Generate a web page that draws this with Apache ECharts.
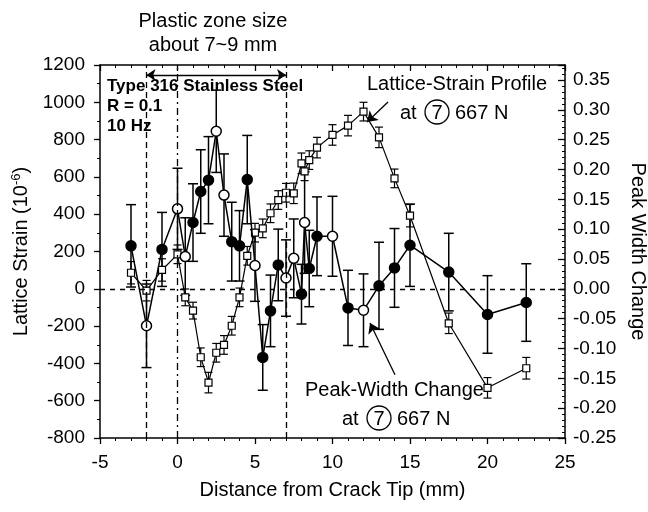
<!DOCTYPE html>
<html>
<head>
<meta charset="utf-8">
<script src="https://cdn.jsdelivr.net/npm/echarts@6/dist/echarts.min.js"></script>
<style>
  html, body { margin: 0; padding: 0; background: #fff; }
  #chart { width: 648px; height: 512px; }
</style>
</head>
<body>
<div id="chart"></div>
<script>
// Lattice strain profile (squares, left axis)
var strainX   = [-3, -2, -1, 0, 0.5, 1, 1.5, 2, 2.5, 3, 3.5, 4, 4.5, 5, 5.5, 6, 6.5, 7, 7.5, 8, 8.2, 8.5, 9, 10, 11, 12, 13, 14, 15, 17.5, 20, 22.5];
var strainVal = [86, -10, 101, 185, -46, -117, -367, -503, -343, -301, -198, -46, 177, 301, 324, 405, 476, 515, 512, 673, 630, 690, 757, 825, 875, 950, 812, 592, 392, -185, -531, -426];
var strainErr = [60, 55, 60, 50, 45, 45, 50, 55, 50, 50, 50, 50, 50, 50, 50, 50, 50, 50, 55, 55, 50, 50, 55, 55, 55, 50, 55, 50, 60, 55, 55, 58];

// Peak width change (circles, right axis), filled = 1 / open = 0
var widthX      = [-3, -2, -1, 0, 0.5, 1, 1.5, 2, 2.5, 3, 3.5, 4, 4.5, 5, 5.5, 6, 6.5, 7, 7.5, 8, 8.2, 8.5, 9, 10, 11, 12, 13, 14, 15, 17.5, 20, 22.5];
var widthVal    = [0.072, -0.062, 0.066, 0.134, 0.054, 0.111, 0.163, 0.182, 0.264, 0.157, 0.079, 0.072, 0.183, 0.039, -0.115, -0.037, 0.040, 0.018, 0.051, -0.009, 0.111, 0.034, 0.088, 0.088, -0.032, -0.036, 0.005, 0.035, 0.073, 0.028, -0.043, -0.023];
var widthErr    = [0.069, 0.07, 0.062, 0.068, 0.065, 0.065, 0.07, 0.073, 0.069, 0.069, 0.066, 0.059, 0.074, 0.06, 0.055, 0.06, 0.06, 0.064, 0.066, 0.05, 0.085, 0.064, 0.066, 0.067, 0.063, 0.061, 0.073, 0.066, 0.069, 0.065, 0.065, 0.065];
var widthFilled = [1, 0, 1, 0, 0, 1, 1, 1, 0, 0, 1, 1, 1, 0, 1, 1, 1, 0, 0, 1, 0, 1, 1, 0, 1, 0, 1, 1, 1, 1, 1, 1];

var strainTicks = [-800, -600, -400, -200, 0, 200, 400, 600, 800, 1000, 1200];

var FONT = '"Liberation Sans", Arial, sans-serif';

var strainData = strainX.map(function (x, i) { return [x, strainVal[i]]; });
var strainBars = strainX.map(function (x, i) { return [x, strainVal[i] - strainErr[i], strainVal[i] + strainErr[i]]; });
var widthData = widthX.map(function (x, i) {
  return { value: [x, widthVal[i]], itemStyle: { color: widthFilled[i] ? '#000' : '#fff' } };
});
var widthBars = widthX.map(function (x, i) { return [x, widthVal[i] - widthErr[i], widthVal[i] + widthErr[i]]; });

function errorBar(capHalf, lw) {
  return function (params, api) {
    var x = api.value(0);
    var lo = api.coord([x, api.value(1)]);
    var hi = api.coord([x, api.value(2)]);
    var st = { stroke: '#000', lineWidth: lw };
    return {
      type: 'group',
      children: [
        { type: 'line', shape: { x1: hi[0], y1: hi[1], x2: lo[0], y2: lo[1] }, style: st },
        { type: 'line', shape: { x1: hi[0] - capHalf, y1: hi[1], x2: hi[0] + capHalf, y2: hi[1] }, style: st },
        { type: 'line', shape: { x1: lo[0] - capHalf, y1: lo[1], x2: lo[0] + capHalf, y2: lo[1] }, style: st }
      ]
    };
  };
}

var axisLine = { show: true, onZero: false, lineStyle: { color: '#000', width: 1.5 } };

var chart = echarts.init(document.getElementById('chart'));
var option = {
  animation: false,
  backgroundColor: '#fff',
  grid: { left: 100, right: 83, top: 65, bottom: 74, containLabel: false, outerBoundsMode: 'none' },
  xAxis: [
    {
      type: 'value', min: -5, max: 25, interval: 5,
      axisLine: axisLine,
      axisTick: { show: true, inside: false, length: 6, lineStyle: { color: '#000', width: 1.3 } },
      minorTick: { show: true, splitNumber: 5, length: 3, lineStyle: { color: '#000', width: 1 } },
      axisLabel: { fontSize: 19, color: '#000', fontFamily: FONT, margin: 15 },
      splitLine: { show: false },
      name: 'Distance from Crack Tip (mm)',
      nameLocation: 'middle', nameGap: 42,
      nameTextStyle: { fontSize: 20, color: '#000', fontFamily: FONT }
    },
    {
      type: 'value', position: 'top', min: -5, max: 25, interval: 5,
      axisLine: axisLine,
      axisTick: { show: true, inside: true, length: 6, lineStyle: { color: '#000', width: 1.3 } },
      minorTick: { show: true, splitNumber: 5, length: 3, lineStyle: { color: '#000', width: 1 } },
      axisLabel: { show: false },
      splitLine: { show: false }
    }
  ],
  yAxis: [
    {
      type: 'value', min: strainTicks[0], max: strainTicks[strainTicks.length - 1], interval: 200,
      axisLine: axisLine,
      axisTick: { show: true, inside: false, length: 6, lineStyle: { color: '#000', width: 1.3 } },
      minorTick: { show: true, splitNumber: 2, length: 3, lineStyle: { color: '#000', width: 1 } },
      axisLabel: {
        fontSize: 19, color: '#000', fontFamily: FONT, margin: 15,
        formatter: function (v) { return String(v); }
      },
      splitLine: { show: false },
      name: '{a|Lattice Strain (10}{s|-6}{a|)}',
      nameLocation: 'middle', nameGap: 52, nameRotate: 90,
      nameTextStyle: {
        color: '#000',
        rich: {
          a: { fontSize: 20, fontFamily: FONT, color: '#000', lineHeight: 24 },
          s: { fontSize: 13, fontFamily: FONT, color: '#000', verticalAlign: 'top', lineHeight: 24, padding: [0, 0, 8, 0] }
        }
      }
    },
    {
      type: 'value', min: -0.25, max: 0.375, interval: 0.05,
      axisLine: axisLine,
      axisTick: { show: true, inside: true, length: 7, lineStyle: { color: '#000', width: 1.3 } },
      minorTick: { show: true, splitNumber: 5, length: 3, lineStyle: { color: '#000', width: 1 } },
      axisLabel: {
        fontSize: 19, color: '#000', fontFamily: FONT, margin: 8, showMaxLabel: false,
        formatter: function (v) { return v.toFixed(2); }
      },
      splitLine: { show: false },
      name: 'Peak Width Change',
      nameLocation: 'middle', nameGap: 62, nameRotate: -90,
      nameTextStyle: { fontSize: 20, color: '#000', fontFamily: FONT }
    }
  ],
  graphic: [
    { type: 'text', x: 213, y: 21, style: { text: 'Plastic zone size', font: '20px ' + FONT, fill: '#000', align: 'center', verticalAlign: 'middle' } },
    { type: 'text', x: 213, y: 45, style: { text: 'about 7~9 mm', font: '20px ' + FONT, fill: '#000', align: 'center', verticalAlign: 'middle' } },
    { type: 'text', x: 107, y: 86, style: { text: 'Type 316 Stainless Steel', font: 'bold 17px ' + FONT, fill: '#000', align: 'left', verticalAlign: 'middle' } },
    { type: 'text', x: 107, y: 106, style: { text: 'R = 0.1', font: 'bold 17px ' + FONT, fill: '#000', align: 'left', verticalAlign: 'middle' } },
    { type: 'text', x: 107, y: 126, style: { text: '10 Hz', font: 'bold 17px ' + FONT, fill: '#000', align: 'left', verticalAlign: 'middle' } },

    { type: 'text', x: 367, y: 84, style: { text: 'Lattice-Strain Profile', font: '20px ' + FONT, fill: '#000', align: 'left', verticalAlign: 'middle' } },
    { type: 'text', x: 400, y: 113, style: { text: 'at', font: '20px ' + FONT, fill: '#000', align: 'left', verticalAlign: 'middle' } },
    { type: 'circle', shape: { cx: 437, cy: 112, r: 12 }, style: { fill: 'none', stroke: '#000', lineWidth: 1.3 } },
    { type: 'text', x: 437, y: 113, style: { text: '7', font: '20px ' + FONT, fill: '#000', align: 'center', verticalAlign: 'middle' } },
    { type: 'text', x: 455, y: 113, style: { text: '667 N', font: '20px ' + FONT, fill: '#000', align: 'left', verticalAlign: 'middle' } },

    { type: 'text', x: 305, y: 390, style: { text: 'Peak-Width Change', font: '20px ' + FONT, fill: '#000', align: 'left', verticalAlign: 'middle' } },
    { type: 'text', x: 342, y: 419, style: { text: 'at', font: '20px ' + FONT, fill: '#000', align: 'left', verticalAlign: 'middle' } },
    { type: 'circle', shape: { cx: 379, cy: 418, r: 12 }, style: { fill: 'none', stroke: '#000', lineWidth: 1.3 } },
    { type: 'text', x: 379, y: 419, style: { text: '7', font: '20px ' + FONT, fill: '#000', align: 'center', verticalAlign: 'middle' } },
    { type: 'text', x: 397, y: 419, style: { text: '667 N', font: '20px ' + FONT, fill: '#000', align: 'left', verticalAlign: 'middle' } }
  ],
  series: [
    {
      type: 'custom', name: 'strainErr', xAxisIndex: 0, yAxisIndex: 0,
      renderItem: errorBar(4, 1.2), data: strainBars, z: 2, silent: true
    },
    {
      type: 'custom', name: 'widthErr', xAxisIndex: 0, yAxisIndex: 1,
      renderItem: errorBar(5, 1.5), data: widthBars, z: 2, silent: true
    },
    {
      type: 'line', name: 'Lattice-Strain Profile', xAxisIndex: 0, yAxisIndex: 0,
      data: strainData, symbol: 'rect', symbolSize: 7, showAllSymbol: true,
      lineStyle: { color: '#000', width: 1.2 },
      itemStyle: { color: '#fff', borderColor: '#000', borderWidth: 1.2 },
      z: 3,
      markLine: {
        silent: true, animation: false,
        label: { show: false },
        symbol: ['none', 'none'],
        data: [
          { xAxis: -2, lineStyle: { color: '#000', width: 1.3, type: [6, 4] } },
          { xAxis: 0, lineStyle: { color: '#000', width: 1.3, type: [7, 4, 2, 4] } },
          { xAxis: 7, lineStyle: { color: '#000', width: 1.3, type: [6, 4] } },
          { yAxis: 0, lineStyle: { color: '#000', width: 1.3, type: [5, 5] } },
          [
            { coord: [-2, 1146], symbol: 'arrow', symbolSize: 9 },
            { coord: [7, 1146], symbol: 'arrow', symbolSize: 9, lineStyle: { color: '#000', width: 1.3, type: 'solid' } }
          ],
          [
            { coord: [13.58, 1002], symbol: 'none' },
            { coord: [12.23, 894], symbol: 'arrow', symbolSize: 10, lineStyle: { color: '#000', width: 1.3, type: 'solid' } }
          ],
          [
            { coord: [14.03, -461], symbol: 'none' },
            { coord: [12.42, -183], symbol: 'arrow', symbolSize: 10, lineStyle: { color: '#000', width: 1.3, type: 'solid' } }
          ]
        ]
      }
    },
    {
      type: 'line', name: 'Peak-Width Change', xAxisIndex: 0, yAxisIndex: 1,
      data: widthData, symbol: 'circle', symbolSize: 10, showAllSymbol: true,
      lineStyle: { color: '#000', width: 1.5 },
      itemStyle: { borderColor: '#000', borderWidth: 1.5 },
      z: 4
    }
  ]
};
chart.setOption(option);
</script>
</body>
</html>
